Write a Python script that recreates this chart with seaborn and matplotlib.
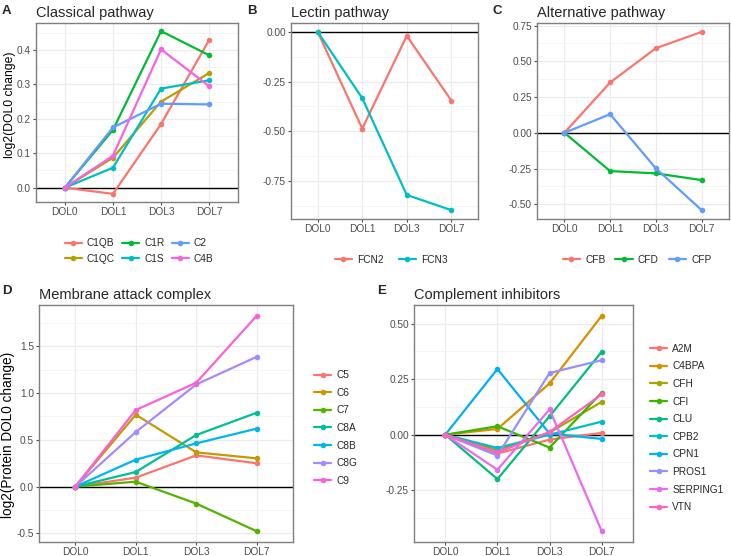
import pandas as pd
import matplotlib.pyplot as plt
import seaborn as sns
from matplotlib.lines import Line2D
from matplotlib.ticker import MultipleLocator, FormatStrFormatter

sns.set_theme(style="white")
plt.rcParams['font.family'] = ['Liberation Sans', 'DejaVu Sans']
plt.rcParams['axes.unicode_minus'] = False

days = ['DOL0', 'DOL1', 'DOL3', 'DOL7']

# Classical pathway
classical_genes = ['C1QB', 'C1QC', 'C1R', 'C1S', 'C2', 'C4B']
classical_vals = [
    [0, -0.018, 0.185, 0.429],
    [0, 0.087, 0.250, 0.333],
    [0, 0.168, 0.455, 0.385],
    [0, 0.058, 0.288, 0.312],
    [0, 0.175, 0.244, 0.242],
    [0, 0.093, 0.402, 0.295],
]
classical_colors = ['#F8766D', '#B79F00', '#00BA38', '#00BFC4', '#619CFF', '#F564E3']

# Lectin pathway
lectin_genes = ['FCN2', 'FCN3']
lectin_vals = [
    [0, -0.486, -0.020, -0.345],
    [0, -0.333, -0.820, -0.896],
]
lectin_colors = ['#F8766D', '#00BFC4']

# Alternative pathway
alt_genes = ['CFB', 'CFD', 'CFP']
alt_vals = [
    [0, 0.352, 0.592, 0.706],
    [0, -0.268, -0.284, -0.331],
    [0, 0.130, -0.249, -0.541],
]
alt_colors = ['#F8766D', '#00BA38', '#619CFF']

# Membrane attack complex
mac_genes = ['C5', 'C6', 'C7', 'C8A', 'C8B', 'C8G', 'C9']
mac_vals = [
    [0, 0.096, 0.334, 0.249],
    [0, 0.768, 0.366, 0.302],
    [0, 0.053, -0.181, -0.476],
    [0, 0.156, 0.551, 0.789],
    [0, 0.288, 0.462, 0.619],
    [0, 0.583, 1.091, 1.386],
    [0, 0.818, 1.109, 1.824],
]
mac_colors = ['#F8766D', '#C49A00', '#53B400', '#00C094', '#00B6EB', '#A58AFF', '#FB61D7']

# Complement inhibitors
inh_genes = ['A2M', 'C4BPA', 'CFH', 'CFI', 'CLU', 'CPB2', 'CPN1', 'PROS1', 'SERPING1', 'VTN']
inh_vals = [
    [0, -0.085, -0.022, 0.008],
    [0, 0.026, 0.231, 0.536],
    [0, -0.070, 0.010, 0.148],
    [0, 0.038, -0.058, 0.190],
    [0, -0.200, 0.083, 0.374],
    [0, -0.060, 0.000, 0.059],
    [0, 0.296, 0.005, -0.019],
    [0, -0.094, 0.278, 0.336],
    [0, -0.158, 0.114, -0.435],
    [0, -0.080, 0.012, 0.182],
]
inh_colors = ['#F8766D', '#D89000', '#A3A500', '#39B600', '#00BF7D',
              '#00BFC4', '#00B0F6', '#9590FF', '#E76BF3', '#FF62BC']

W, H = 731, 556
fig = plt.figure(figsize=(W / 100, H / 100), dpi=100)


def make_ax(l, r, t, b):
    return fig.add_axes([l / W, 1 - b / H, (r - l) / W, (b - t) / H])


def to_long(genes, vals):
    rows = []
    for g, v in zip(genes, vals):
        for d, y in zip(days, v):
            rows.append({'day': d, 'value': y, 'gene': g})
    return pd.DataFrame(rows)


def panel(ax, genes, vals, colors, title, letter, letter_xy, major, minor, fmt,
          ylabel=None, label_xy=None, label_size=9):
    df = to_long(genes, vals)
    sns.lineplot(data=df, x='day', y='value', hue='gene', hue_order=genes,
                 palette=colors, marker='o', markersize=4, markeredgewidth=0,
                 linewidth=1.6, sort=False, legend=False, ax=ax, zorder=3)
    ax.axhline(0, color='black', lw=1.0, zorder=2)
    ax.set_xlim(-0.6, 3.6)
    lo = min(min(v) for v in vals)
    hi = max(max(v) for v in vals)
    pad = (hi - lo) * 0.05
    ax.set_ylim(lo - pad, hi + pad)
    ax.yaxis.set_major_locator(MultipleLocator(major))
    ax.yaxis.set_minor_locator(MultipleLocator(minor))
    ax.yaxis.set_major_formatter(FormatStrFormatter(fmt))
    ax.grid(which='major', color='#EBEBEB', lw=0.9, zorder=0)
    ax.grid(which='minor', axis='y', color='#F3F3F3', lw=0.6, zorder=0)
    ax.set_axisbelow(True)
    for s in ax.spines.values():
        s.set_color('#7F7F7F')
        s.set_linewidth(1.0)
    ax.tick_params(axis='both', which='major', length=2.2, width=0.8, color='#4D4D4D',
                   labelsize=7.3, labelcolor='#4D4D4D', pad=1.5, left=True, bottom=True)
    ax.tick_params(axis='y', which='minor', length=0)
    ax.set_xlabel('')
    ax.set_ylabel(ylabel if ylabel else '', fontsize=label_size, color='black')
    if label_xy is not None:
        ax.yaxis.set_label_coords(*label_xy)
    ax.set_title(title, loc='left', fontsize=10.5, pad=4)
    fig.text(letter_xy[0] / W, 1 - letter_xy[1] / H, letter, fontsize=9.5,
             fontweight='bold')
    handles = [Line2D([], [], color=c, lw=1.6, marker='o', markersize=4,
                      markeredgewidth=0) for c in colors]
    return handles


leg_kw = dict(frameon=False, fontsize=7.3, handlelength=1.7, handletextpad=0.5,
              borderpad=0.2)

axA = make_ax(36, 238, 23, 202)
hA = panel(axA, classical_genes, classical_vals, classical_colors,
           'Classical pathway', 'A', (2, 14), 0.1, 0.05, '%.1f',
           'log2(DOL0 change)', ((16 - 36) / 202, (202 - 104.5) / 179), 8.7)
fig.legend(hA, classical_genes, ncol=3, loc='center', bbox_to_anchor=(139 / W, 1 - 251 / H),
           columnspacing=0.7, labelspacing=0.55, **leg_kw)

axB = make_ax(291, 478, 23, 219)
hB = panel(axB, lectin_genes, lectin_vals, lectin_colors,
           'Lectin pathway', 'B', (247, 14), 0.25, 0.125, '%.2f')
fig.legend(hB, lectin_genes, ncol=2, loc='center', bbox_to_anchor=(391 / W, 1 - 260 / H),
           columnspacing=1.5, **leg_kw)

axC = make_ax(537, 729, 23, 219)
hC = panel(axC, alt_genes, alt_vals, alt_colors,
           'Alternative pathway', 'C', (492, 14), 0.25, 0.125, '%.2f')
fig.legend(hC, alt_genes, ncol=3, loc='center', bbox_to_anchor=(637 / W, 1 - 260 / H),
           columnspacing=1.0, **leg_kw)

axD = make_ax(39, 293, 305, 542)
hD = panel(axD, mac_genes, mac_vals, mac_colors,
           'Membrane attack complex', 'D', (2, 294), 0.5, 0.25, '%.1f',
           'log2(Protein DOL0 change)', ((15 - 39) / 254, (542 - 435) / 237), 9.8)
fig.legend(hD, mac_genes, ncol=1, loc='center left', bbox_to_anchor=(307 / W, 1 - 428 / H),
           labelspacing=0.75, **leg_kw)

axE = make_ax(414, 633, 305, 542)
hE = panel(axE, inh_genes, inh_vals, inh_colors,
           'Complement inhibitors', 'E', (377, 294), 0.25, 0.125, '%.2f')
fig.legend(hE, inh_genes, ncol=1, loc='center left', bbox_to_anchor=(643 / W, 1 - 428 / H),
           labelspacing=0.75, **leg_kw)

fig.savefig('out.png', dpi=100)
